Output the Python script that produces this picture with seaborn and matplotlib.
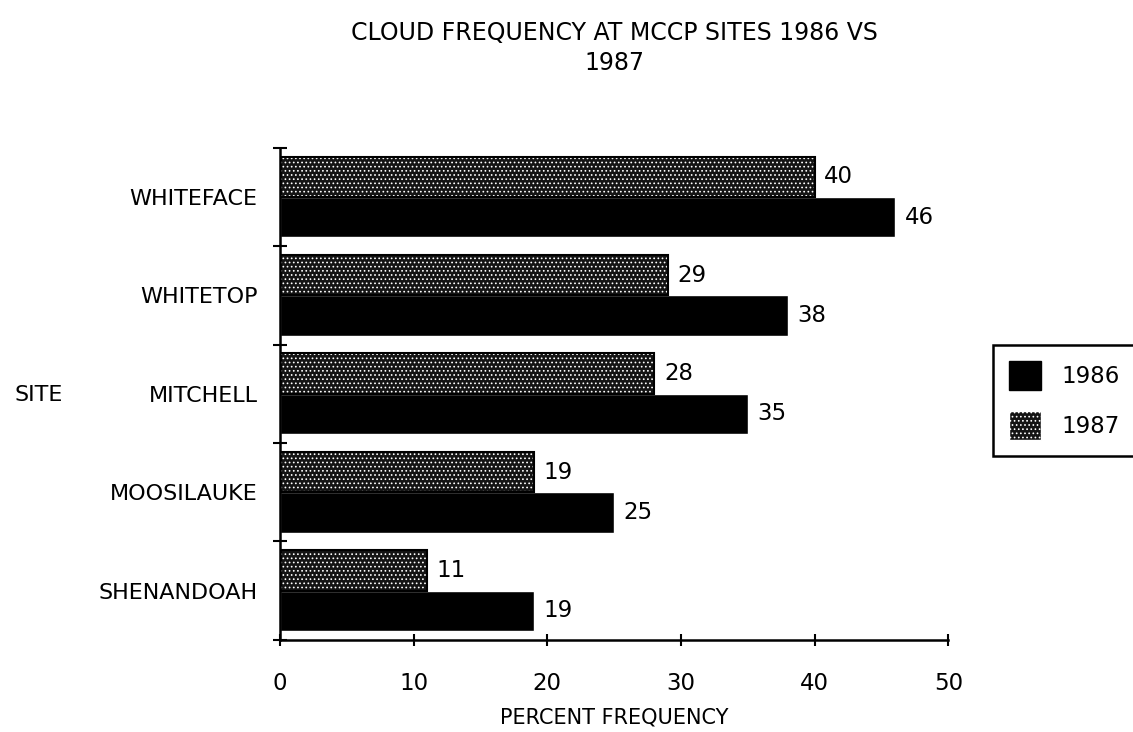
import matplotlib
matplotlib.use("Agg")
import matplotlib.pyplot as plt
import matplotlib.patches as mpatches
import pandas as pd
import seaborn as sns

sites = ["WHITEFACE", "WHITETOP", "MITCHELL", "MOOSILAUKE", "SHENANDOAH"]
freq_1986 = [46, 38, 35, 25, 19]
freq_1987 = [40, 29, 28, 19, 11]
x_ticks = [0, 10, 20, 30, 40, 50]

df = pd.DataFrame(
    {
        "site": sites * 2,
        "year": ["1986"] * len(sites) + ["1987"] * len(sites),
        "freq": freq_1986 + freq_1987,
    }
)

sns.set_theme(style="white")
plt.rcParams["font.family"] = ["DejaVu Sans"]
plt.rcParams["text.color"] = "black"
plt.rcParams["axes.labelcolor"] = "black"
plt.rcParams["xtick.color"] = "black"
plt.rcParams["ytick.color"] = "black"
plt.rcParams["hatch.color"] = "white"
plt.rcParams["hatch.linewidth"] = 0.7

STIPPLE = "#141414"

fig = plt.figure(figsize=(11.33, 7.32), dpi=100)
ax = fig.add_axes([0.247, 0.126, 0.59, 0.672])

sns.barplot(
    data=df,
    y="site",
    x="freq",
    hue="year",
    order=sites,
    hue_order=["1987", "1986"],
    palette={"1986": "black", "1987": STIPPLE},
    orient="h",
    width=0.82,
    saturation=1,
    legend=False,
    ax=ax,
)

# stipple the 1987 bars and label every bar with its value
for container, year in zip(ax.containers, ["1987", "1986"]):
    for bar in container:
        if year == "1987":
            bar.set_hatch("....")
            bar.set_edgecolor("white")
            bar.set_linewidth(0)
            ax.add_patch(
                mpatches.Rectangle(
                    (bar.get_x(), bar.get_y()),
                    bar.get_width(),
                    bar.get_height(),
                    fill=False,
                    edgecolor="black",
                    linewidth=1.5,
                    zorder=3,
                )
            )
    ax.bar_label(
        container,
        labels=[f"{int(v)}" for v in container.datavalues],
        padding=7,
        fontsize=16.5,
    )

ax.set_xlim(0, 50)
ax.set_ylim(len(sites) - 0.5, -0.5)
ax.set_xticks(x_ticks)
ax.set_xticklabels([str(t) for t in x_ticks], fontsize=16.5)
ax.set_yticks([i - 0.5 for i in range(len(sites) + 1)], minor=False)
ax.set_yticklabels([""] * (len(sites) + 1))
ax.set_yticks(range(len(sites)), minor=True)
ax.set_yticklabels(sites, minor=True, fontsize=16)
ax.tick_params(axis="y", which="minor", left=True, length=0, pad=16)
ax.tick_params(axis="y", which="major", left=True, direction="inout", length=10, width=1.5)
ax.tick_params(axis="x", bottom=True, direction="inout", length=9, width=1.5, pad=19)

sns.despine(ax=ax)
for side in ["left", "bottom"]:
    ax.spines[side].set_color("black")
    ax.spines[side].set_linewidth(1.8)

ax.set_ylabel("")
ax.set_xlabel("PERCENT FREQUENCY", fontsize=15, labelpad=9)
fig.text(0.013, 0.46, "SITE", fontsize=16, ha="left", va="center")

fig.text(0.542, 0.955, "CLOUD FREQUENCY AT MCCP SITES 1986 VS", fontsize=17, ha="center", va="center")
fig.text(0.542, 0.914, "1987", fontsize=17, ha="center", va="center")

handles = [
    mpatches.Patch(facecolor="black", edgecolor="black", label="1986"),
    mpatches.Patch(facecolor=STIPPLE, edgecolor="white", hatch="....", label="1987"),
]
leg = fig.legend(
    handles=handles,
    loc="center left",
    bbox_to_anchor=(0.876, 0.453),
    borderaxespad=0,
    frameon=True,
    fancybox=False,
    framealpha=1,
    edgecolor="black",
    handlelength=1.4,
    handleheight=1.6,
    labelspacing=0.9,
    borderpad=0.7,
    handletextpad=0.9,
    prop={"family": "DejaVu Sans", "size": 16.5},
)
leg.get_frame().set_linewidth(1.8)

fig.savefig("out.png", dpi=100)
